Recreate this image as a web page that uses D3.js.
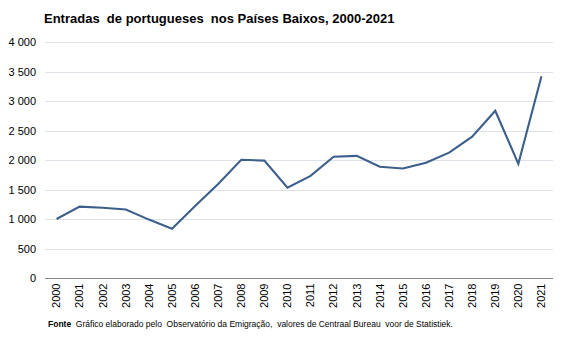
<!DOCTYPE html>
<html><head><meta charset="utf-8">
<script src="https://cdn.jsdelivr.net/npm/d3@7"></script>
<style>body{margin:0;background:#fff;} text{font-family:"Liberation Sans",Arial,sans-serif;}</style>
</head><body><svg id="c" width="567" height="340"></svg>
<script>
const years = ["2000","2001","2002","2003","2004","2005","2006","2007","2008","2009","2010","2011","2012","2013","2014","2015","2016","2017","2018","2019","2020","2021"];
const entradas = [1000,1210,1190,1160,990,835,1220,1595,2005,1990,1530,1730,2055,2070,1885,1855,1955,2125,2395,2835,1935,3420];
const yTicks = [0,500,1000,1500,2000,2500,3000,3500,4000];
const title = "Entradas  de portugueses  nos Países Baixos, 2000-2021";

const svg = d3.select("#c");
const L = 45, R = 553, T = 42, B = 278;
const x = d3.scaleBand().domain(years).range([L, R]);
const y = d3.scaleLinear().domain([0, 4000]).range([B, T]);
const fmt = v => d3.format(",")(v).replace(/,/g, " ");

svg.append("text").attr("x", 44).attr("y", 23).attr("font-size", 13).attr("font-weight", "bold")
  .style("white-space", "pre").attr("fill", "#000").text(title);

// grid
svg.append("g").selectAll("line").data(yTicks.filter(d => d > 0)).join("line")
  .attr("x1", L).attr("x2", R).attr("y1", d => Math.round(y(d)) + 0.5).attr("y2", d => Math.round(y(d)) + 0.5)
  .attr("stroke", "#dde1e8").attr("stroke-width", 1);

// y axis labels
svg.append("g").selectAll("text").data(yTicks).join("text")
  .attr("x", 36).attr("y", d => y(d) + 4).attr("text-anchor", "end")
  .attr("font-size", 11).attr("fill", "#000").text(fmt);

// x axis
const xa = svg.append("g").attr("transform", `translate(0,${B + 0.5})`)
  .call(d3.axisBottom(x).tickSize(0).tickPadding(0));
xa.select(".domain").attr("stroke", "#868686").attr("d", `M${L},0H${R}`);
xa.selectAll("text").attr("font-size", 11).attr("fill", "#000")
  .attr("font-family", "Liberation Sans, Arial, sans-serif")
  .attr("transform", "rotate(-90)").attr("text-anchor", "end")
  .attr("x", -5).attr("y", 0).attr("dy", "0.35em");

// line
const line = d3.line().x((d, i) => x(years[i]) + x.bandwidth() / 2).y(d => y(d));
svg.append("path").datum(entradas).attr("d", line).attr("fill", "none")
  .attr("stroke", "#3c5f8c").attr("stroke-width", 2.1).attr("stroke-linejoin", "miter");

// source
const src = svg.append("text").attr("x", 48).attr("y", 327).attr("font-size", 8.5).attr("fill", "#000").style("white-space", "pre");
src.append("tspan").attr("font-weight", "bold").text("Fonte");
src.append("tspan").text("  Gráfico elaborado pelo  Observatório da Emigração,  valores de Centraal Bureau  voor de Statistiek.");
</script></body></html>
